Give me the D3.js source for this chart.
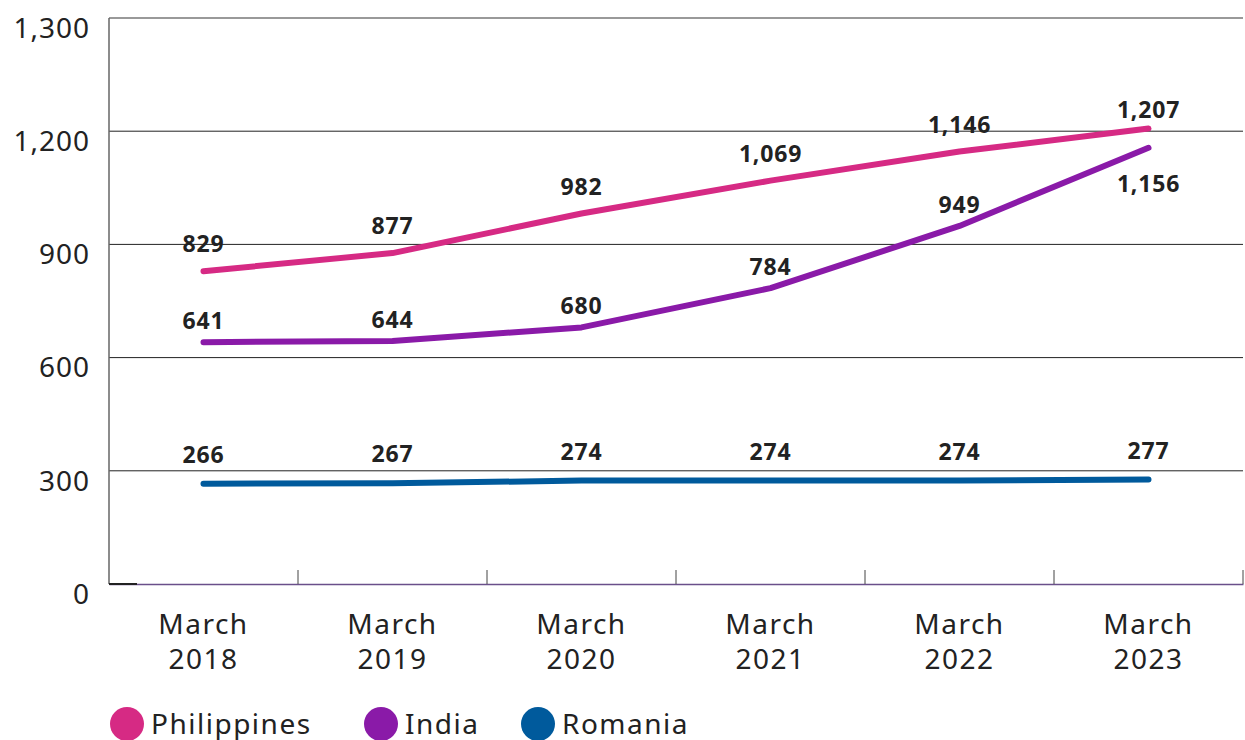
<!DOCTYPE html>
<html>
<head>
<meta charset="utf-8">
<script src="https://cdn.jsdelivr.net/npm/d3@7"></script>
<style>
  body { margin: 0; background: #fff; }
  text { font-family: "Noto Sans", sans-serif; fill: #222; }
</style>
</head>
<body>
<div id="target"></div>
<script>
// data
var years = ['March 2018', 'March 2019', 'March 2020', 'March 2021', 'March 2022', 'March 2023'];
var philippines = [829, 877, 982, 1069, 1146, 1207];
var india = [641, 644, 680, 784, 949, 1156];
var romania = [266, 267, 274, 274, 274, 277];
var seriesNames = ['Philippines', 'India', 'Romania'];
var seriesColors = ['#d62a84', '#8a1aa8', '#005a9c'];
var yTickValues = [0, 300, 600, 900, 1200, 1500];
var yTickLabels = ['0', '300', '600', '900', '1,200', '1,300'];

var W = 1245, H = 740;
var plotLeft = 109, plotRight = 1243, plotTop = 18, plotBottom = 584;

var svg = d3.select('#target').append('svg')
  .attr('width', W)
  .attr('height', H);

var x = d3.scaleBand().domain(years).range([plotLeft, plotRight]);
var y = d3.scaleLinear().domain([0, 1500]).range([plotBottom, plotTop]);

// gridlines
svg.append('g')
  .selectAll('line')
  .data(yTickValues.slice(1))
  .join('line')
  .attr('x1', plotLeft).attr('x2', plotRight)
  .attr('y1', d => y(d)).attr('y2', d => y(d))
  .attr('stroke', d => d === 1500 ? '#777' : '#222')
  .attr('stroke-width', d => d === 1500 ? 1.5 : 1);

// y axis labels
svg.append('g')
  .selectAll('text')
  .data(yTickValues)
  .join('text')
  .attr('x', 90)
  .attr('y', d => y(d) + 10)
  .attr('dy', '0.35em')
  .attr('text-anchor', 'end')
  .style('font-size', '28px')
  .style('letter-spacing', '1px')
  .text((d, i) => yTickLabels[i]);

// left axis line
svg.append('line')
  .attr('x1', plotLeft).attr('x2', plotLeft)
  .attr('y1', plotTop).attr('y2', plotBottom)
  .attr('stroke', '#666').attr('stroke-width', 1.5);

// bottom axis
var xAxis = d3.axisBottom(x).tickSize(0).tickFormat('');
svg.append('g')
  .attr('transform', 'translate(0,' + plotBottom + ')')
  .call(xAxis)
  .call(g => g.select('.domain').attr('stroke', '#6a4f8a').attr('stroke-width', 1.5));
svg.append('line')
  .attr('x1', plotLeft).attr('x2', plotLeft + 28)
  .attr('y1', plotBottom).attr('y2', plotBottom)
  .attr('stroke', '#222').attr('stroke-width', 2);

// band boundary ticks
var bounds = years.map(d => x(d)).concat([x(years[years.length - 1]) + x.bandwidth()]);
svg.append('g')
  .selectAll('line')
  .data(bounds.slice(1))
  .join('line')
  .attr('x1', d => d).attr('x2', d => d)
  .attr('y1', plotBottom - 14).attr('y2', plotBottom)
  .attr('stroke', '#444').attr('stroke-width', 1);

// x labels
var xl = svg.append('g')
  .selectAll('text')
  .data(years)
  .join('text')
  .attr('x', d => x(d) + x.bandwidth() / 2)
  .attr('y', 624)
  .attr('text-anchor', 'middle')
  .style('font-size', '28px')
  .style('letter-spacing', '1.5px');
xl.append('tspan').attr('x', d => x(d) + x.bandwidth() / 2).attr('dy', '0.35em').text(d => d.split(' ')[0]);
xl.append('tspan').attr('x', d => x(d) + x.bandwidth() / 2).attr('dy', '1.25em').text(d => d.split(' ')[1]);

// lines
var series = [philippines, india, romania];
var labelOffset = [-27, -21, -29];
var line = d3.line()
  .x((d, i) => x(years[i]) + x.bandwidth() / 2)
  .y(d => y(d));

function labelY(d, i, s, n) {
  if (i === n - 1 && s === 1) return y(d) + 36;   // india last label sits below
  if (i === n - 1 && s === 0) return y(d) - 19;
  return y(d) + labelOffset[s];
}

series.forEach(function(vals, s) {
  svg.append('path')
    .datum(vals)
    .attr('d', line)
    .attr('fill', 'none')
    .attr('stroke', seriesColors[s])
    .attr('stroke-width', 6)
    .attr('stroke-linecap', 'round')
    .attr('stroke-linejoin', 'round');

  svg.append('g')
    .selectAll('text')
    .data(vals)
    .join('text')
    .attr('x', (d, i) => x(years[i]) + x.bandwidth() / 2)
    .attr('y', (d, i) => labelY(d, i, s, vals.length))
    .attr('dy', '0.35em')
    .attr('text-anchor', 'middle')
    .style('font-size', '23px')
    .style('font-weight', 'bold')
    .style('letter-spacing', '0.8px')
    .text(d => d3.format(',')(d));
});

// legend
var legendX = [127, 381, 538];
var lg = svg.append('g')
  .selectAll('g')
  .data(seriesNames)
  .join('g')
  .attr('transform', (d, i) => 'translate(' + legendX[i] + ',724)');
lg.append('circle').attr('r', 17).attr('fill', (d, i) => seriesColors[i]);
lg.append('text')
  .attr('x', 24)
  .attr('dy', '0.35em')
  .style('font-size', '28px')
  .style('letter-spacing', '1.5px')
  .text(d => d);
</script>
</body>
</html>
